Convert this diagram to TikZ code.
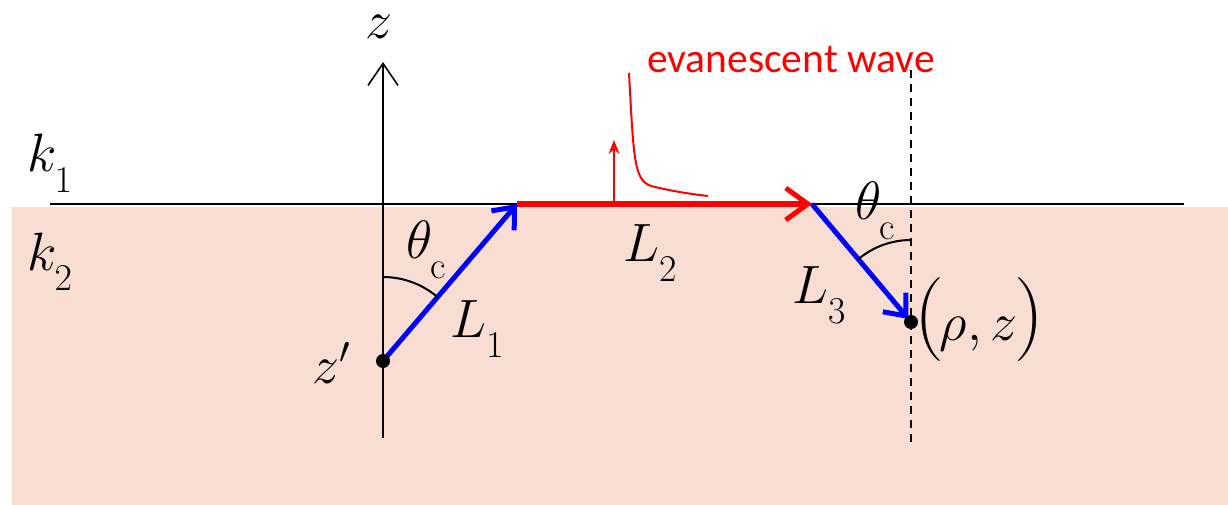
\documentclass[tikz,border=0pt]{standalone}
\usepackage{fix-cm}
\usepackage{fontspec}
\newfontfamily\calib{Carlito}
\usetikzlibrary{arrows.meta}
\definecolor{bgpink}{RGB}{248,221,211}
\newcommand\lsub[1]{_{\lower12pt\hbox{$\scriptstyle #1$}}}
\newcommand\bigparen[1]{{\fontsize{84}{84}\selectfont #1}}
\begin{document}
\begin{tikzpicture}[x=1pt,y=-1pt,
  mathlbl/.style={inner sep=0pt,anchor=base west,font=\fontsize{54}{60}\selectfont},
  blueray/.style={draw=blue,line width=5pt,-{Straight Barb[length=18pt,width=30pt,line width=5pt]}},
  redray/.style={draw=red,line width=5pt,-{Straight Barb[length=22pt,width=32pt,line width=5pt]}},
  thin line/.style={line width=1.6pt},
  dotmark/.style={circle,fill=black,inner sep=0pt,minimum size=14pt}]
\useasboundingbox (0,0) rectangle (1228,505);
\fill[bgpink] (12,207) rectangle (1228,505);
% interface
\coordinate (ifL) at (50,204);
\coordinate (ifR) at (1184,204);
\draw[line width=2pt] (ifL) -- (ifR);
% z axis
\coordinate (zbot) at (383,438);
\coordinate (ztop) at (383,62);
\draw[thin line,-{Straight Barb[length=22pt,width=30pt,line width=1.6pt]}] (zbot) -- (ztop);
\node[mathlbl] (zlab) at (365,39) {$z$};
% points
\coordinate (P1) at (517,204);
\coordinate (P2) at (812,204);
\coordinate (srcc) at (383,361);
\coordinate (obsc) at (911,322);
% dashed vertical
\coordinate (dtop) at (911,70);
\coordinate (dbot) at (911,442);
\draw[line width=1.6pt,dash pattern=on 8pt off 6pt] (dtop) -- (dbot);
% rays
\draw[redray] (P1) -- (P2);
\draw[blueray,shorten <=-1pt] (srcc) -- (P1);
\draw[blueray,shorten >=4pt] (P2) -- (obsc);
\node[dotmark] (src) at (srcc) {};
\node[dotmark] (obs) at (obsc) {};
% arcs
\draw[line width=2pt] (src.center) ++(-90:84) arc[start angle=-90,end angle=-49.3,radius=84];
\draw[line width=2pt] (obs.center) ++(-90:82) arc[start angle=-90,end angle=-130,radius=82];
% evanescent wave
\coordinate (upb) at (614,204);
\coordinate (upt) at (614,140);
\draw[red,line width=1.6pt,-{Stealth[length=14pt,width=11pt]}] (upb) -- (upt);
\coordinate (ev1) at (629,73);
\coordinate (ev2) at (708,196);
\draw[red,line width=2pt] (ev1) .. controls (634,165) and (634,183) .. (655,187) .. controls (672,191) and (690,194) .. (ev2);
\node[inner sep=0pt,anchor=base west,text=red,font=\calib\fontsize{41.5}{48}\selectfont] (evlab) at (647,73) {evanescent wave};
% labels
\node[mathlbl] (k1) at (27,172) {$k\lsub{1}$};
\node[mathlbl] (k2) at (27,270) {$k\lsub{2}$};
\node[mathlbl] (zp) at (312,383) {$z'$};
\node[mathlbl] (th1) at (406,258) {$\theta\lsub{\mathrm{c}}$};
\node[mathlbl] (th2) at (855,219) {$\theta\lsub{\mathrm{c}}$};
\node[mathlbl] (L1) at (450,337) {$L\lsub{1}$};
\node[mathlbl] (L2) at (623,261) {$L\lsub{2}$};
\node[mathlbl] (L3) at (792,303) {$L\lsub{3}$};
\node[mathlbl] (rz) at (914,340) {\bigparen{(}\kern-4pt$\rho,z$\kern-3pt\bigparen{)}};
\end{tikzpicture}
\end{document}
